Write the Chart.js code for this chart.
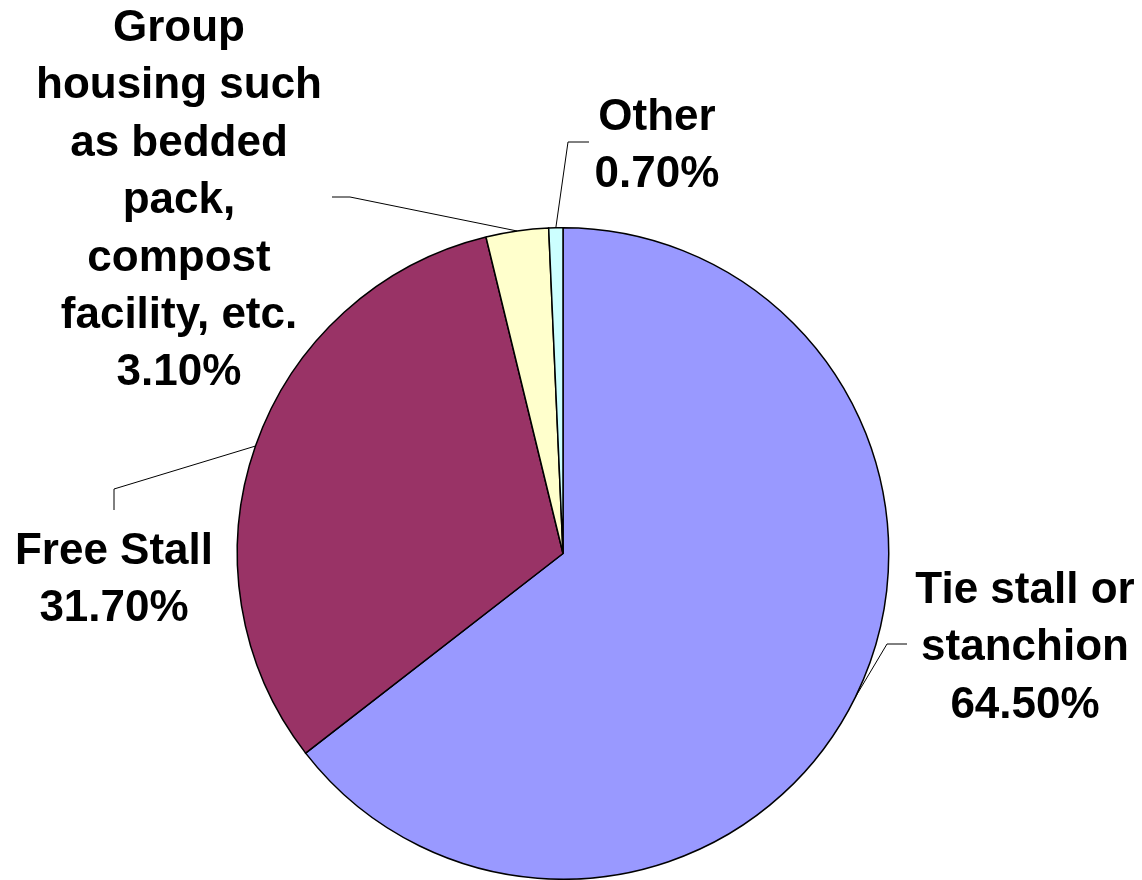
<!DOCTYPE html>
<html lang="en">
<head>
    <meta charset="UTF-8">
    <title>Housing type</title>
    <style>
        html, body { margin: 0; padding: 0; background: #fff; }
        #wrap { width: 1142px; height: 880px; position: relative; }
    </style>
</head>
<body>
<div id="wrap">
    <canvas id="myChart" width="1142" height="880" role="img" aria-label="Housing type pie chart"></canvas>
</div>

<script src="https://cdn.jsdelivr.net/npm/chart.js@4.4.1/dist/chart.umd.min.js"></script>
<script>
    // data
    var categories = ['Tie stall or stanchion', 'Free Stall',
        'Group housing such as bedded pack, compost facility, etc.', 'Other'];
    var shares = [64.5, 31.7, 3.1, 0.7];
    var sliceColors = ['#9999ff', '#993366', '#ffffcc', '#ccffff'];

    // how each label is wrapped, where it sits and how its leader line bends
    var labelLines = [
        ['Tie stall or', 'stanchion'],
        ['Free Stall'],
        ['Group', 'housing such', 'as bedded', 'pack,', 'compost', 'facility, etc.'],
        ['Other']
    ];
    var labelPlace = [
        { cx: 1025, base: 603, elbow: [887, 644], end: [907, 644] },
        { cx: 114, base: 564, elbow: [114, 489], end: [114, 510] },
        { cx: 179, base: 41, elbow: [350, 197], end: [332, 197] },
        { cx: 657, base: 130, elbow: [568, 142], end: [589, 142] }
    ];

    var leaderLabels = {
        id: 'leaderLabels',
        afterDatasetsDraw: function (chart) {
            var ctx = chart.ctx;
            var arcs = chart.getDatasetMeta(0).data;
            ctx.save();
            arcs.forEach(function (arc, i) {
                var p = arc.getProps(['x', 'y', 'startAngle', 'endAngle', 'outerRadius'], true);
                var mid = (p.startAngle + p.endAngle) / 2;
                var sx = p.x + Math.cos(mid) * p.outerRadius;
                var sy = p.y + Math.sin(mid) * p.outerRadius;
                var pl = labelPlace[i];

                ctx.strokeStyle = '#000';
                ctx.lineWidth = 1;
                ctx.beginPath();
                ctx.moveTo(sx, sy);
                ctx.lineTo(pl.elbow[0], pl.elbow[1]);
                ctx.lineTo(pl.end[0], pl.end[1]);
                ctx.stroke();

                var lines = labelLines[i].concat([shares[i].toFixed(2) + '%']);
                ctx.fillStyle = '#000';
                ctx.font = 'bold 44px "Liberation Sans", Arial, sans-serif';
                ctx.textAlign = 'center';
                ctx.textBaseline = 'alphabetic';
                lines.forEach(function (t, k) {
                    ctx.fillText(t, pl.cx, pl.base + k * 57.4);
                });
            });
            ctx.restore();
        }
    };

    function createChart() {
        var ctx = document.getElementById('myChart').getContext('2d');
        new Chart(ctx, {
            type: 'pie',
            data: {
                labels: categories,
                datasets: [{
                    data: shares,
                    backgroundColor: sliceColors,
                    borderColor: '#000',
                    borderWidth: 1.5,
                    borderJoinStyle: 'miter'
                }]
            },
            options: {
                responsive: false,
                animation: false,
                layout: { padding: { left: 236, right: 252, top: 227, bottom: 0 } },
                plugins: {
                    legend: { display: false },
                    tooltip: { enabled: false }
                }
            },
            plugins: [leaderLabels]
        });
    }

    createChart();
</script>
</body>
</html>
